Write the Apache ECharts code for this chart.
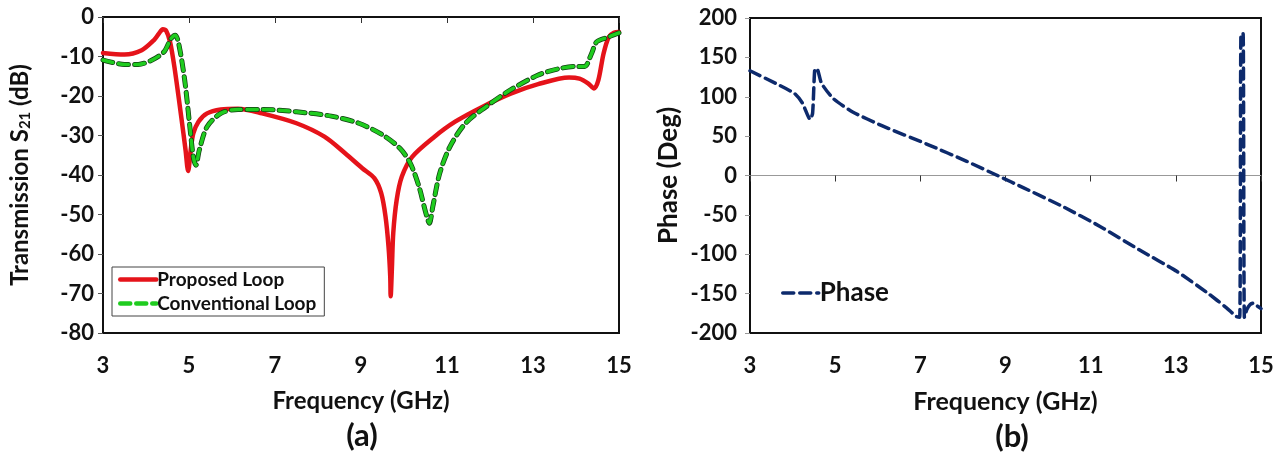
<!DOCTYPE html>
<html>
<head>
<meta charset="utf-8">
<script src="https://cdn.jsdelivr.net/npm/echarts@6/dist/echarts.min.js"></script>
<style>
  html, body { margin: 0; padding: 0; background: #ffffff; }
  #chart { width: 1286px; height: 452px; }
</style>
</head>
<body>
<div id="chart"></div>
<script>
// Frequency axis ticks shared by both panels (GHz)
const freqTicks = [3, 5, 7, 9, 11, 13, 15];
// Panel (a): S21 magnitude ticks (dB)
const s21Ticks = [0, -10, -20, -30, -40, -50, -60, -70, -80];
// Panel (b): phase ticks (degrees)
const phaseTicks = [200, 150, 100, 50, 0, -50, -100, -150, -200];

// Panel (a): transmission S21 of the proposed loop [GHz, dB]
const proposedLoop = [
  [3.00, -9.1], [3.50, -9.5], [3.90, -8.4], [4.18, -5.9], [4.30, -4.2], [4.39, -3.1],
  [4.47, -3.5], [4.56, -6.3], [4.66, -12.6], [4.82, -25.3], [4.92, -33.7], [4.98, -39.0],
  [5.04, -33.7], [5.10, -29.5], [5.22, -26.5], [5.42, -24.4], [5.74, -23.4], [6.14, -23.2],
  [6.70, -24.4], [7.50, -26.9], [8.15, -30.3], [8.63, -34.5], [9.03, -38.3], [9.31, -40.8],
  [9.47, -44.6], [9.57, -50.5], [9.64, -58.1], [9.68, -65.7], [9.69, -70.7], [9.72, -63.2],
  [9.75, -54.7], [9.83, -46.3], [9.95, -40.4], [10.19, -35.4], [10.71, -30.3], [11.19, -26.5],
  [11.83, -22.7], [12.48, -19.4], [13.12, -17.0], [13.84, -15.3], [14.08, -15.6], [14.28, -16.8],
  [14.42, -18.1], [14.52, -16.0], [14.64, -9.3], [14.76, -5.1], [14.88, -4.0], [15.00, -3.8]
];

// Panel (a): transmission S21 of the conventional loop [GHz, dB]
const conventionalLoop = [
  [3.00, -10.9], [3.50, -12.0], [3.82, -12.0], [4.14, -10.9], [4.42, -8.8], [4.58, -5.5],
  [4.68, -4.6], [4.76, -6.7], [4.90, -16.0], [5.02, -27.8], [5.10, -35.4], [5.16, -37.5],
  [5.24, -33.7], [5.42, -27.8], [5.74, -24.4], [6.14, -23.4], [6.70, -23.4], [7.50, -24.0],
  [8.31, -25.1], [8.95, -26.9], [9.51, -29.9], [9.91, -33.3], [10.15, -37.1], [10.35, -43.0],
  [10.51, -49.7], [10.59, -52.2], [10.67, -48.0], [10.83, -39.6], [11.07, -32.8], [11.43, -26.9],
  [11.91, -22.7], [12.47, -18.5], [13.12, -14.7], [13.60, -13.1], [14.00, -12.5], [14.20, -12.5],
  [14.36, -9.3], [14.48, -6.3], [14.72, -5.2], [15.00, -4.0]
];

// Panel (b): transmission phase [GHz, deg]
const phaseData = [
  [3.00, 133], [3.60, 117], [4.05, 104], [4.23, 92], [4.35, 77], [4.41, 71], [4.47, 79],
  [4.52, 134], [4.57, 136], [4.68, 117], [4.95, 98], [5.40, 81], [6.11, 63], [7.19, 39],
  [8.09, 18], [8.81, 0], [9.44, -16], [10.33, -39], [11.23, -65], [12.13, -94], [13.03, -122],
  [13.74, -149], [14.19, -168], [14.42, -179], [14.50, -180], [14.53, 180], [14.58, 180],
  [14.61, -180], [14.67, -170], [14.74, -164], [14.82, -162], [14.92, -166], [15.00, -169]
];

const FONT = 'Lato';
const INK = '#111111';
const tickFont = { fontFamily: FONT, fontWeight: 'bold', fontSize: 22, color: INK };
const titleFontA = { fontFamily: FONT, fontWeight: 'bold', fontSize: 24, color: INK };
const titleFontB = { fontFamily: FONT, fontWeight: 'bold', fontSize: 25, color: INK };

// Bottom axis carrying the frequency labels and title
function labelAxis(gridIndex, nameStyle) {
  return {
    gridIndex, type: 'value', min: freqTicks[0], max: freqTicks[freqTicks.length - 1],
    interval: freqTicks[1] - freqTicks[0], position: 'bottom',
    axisLine: { show: false, onZero: false }, axisTick: { show: false }, splitLine: { show: false },
    axisLabel: Object.assign({ margin: 22 }, tickFont),
    name: 'Frequency (GHz)', nameLocation: 'middle', nameGap: 56, nameTextStyle: nameStyle
  };
}
// Horizontal axis line drawn where the value axis crosses zero, with its ticks
function zeroAxis(gridIndex, lineColor) {
  return {
    gridIndex, type: 'value', min: freqTicks[0], max: freqTicks[freqTicks.length - 1],
    interval: freqTicks[1] - freqTicks[0], position: 'bottom',
    axisLine: { show: true, onZero: true, lineStyle: { color: lineColor, width: 1 } },
    axisTick: { show: true, length: 6, lineStyle: { color: '#333', width: 1 } },
    axisLabel: { show: false }, splitLine: { show: false }
  };
}

const chart = echarts.init(document.getElementById('chart'), null, { renderer: 'canvas' });
chart.setOption({
  animation: false,
  backgroundColor: '#ffffff',
  grid: [
    { left: 103, top: 17, width: 516, height: 316, show: true, borderColor: INK, borderWidth: 2 },
    { left: 750, top: 18, width: 511, height: 315, show: true, borderColor: INK, borderWidth: 2 }
  ],
  xAxis: [labelAxis(0, titleFontA), zeroAxis(0, INK), labelAxis(1, titleFontB), zeroAxis(1, '#999')],
  yAxis: [
    {
      gridIndex: 0, type: 'value', min: s21Ticks[s21Ticks.length - 1], max: s21Ticks[0],
      interval: s21Ticks[0] - s21Ticks[1],
      axisLine: { show: true, lineStyle: { color: INK, width: 2 } },
      axisTick: { show: true, length: 5, lineStyle: { color: '#555' } },
      splitLine: { show: false },
      axisLabel: Object.assign({ margin: 9 }, tickFont),
      name: 'Transmission S{sub|21} (dB)', nameLocation: 'middle', nameGap: 70,
      nameTextStyle: Object.assign({}, titleFontA, {
        rich: { sub: { fontFamily: FONT, fontWeight: 'bold', fontSize: 15, color: INK, padding: [11, 0, 0, 0] } }
      })
    },
    {
      gridIndex: 1, type: 'value', min: phaseTicks[phaseTicks.length - 1], max: phaseTicks[0],
      interval: phaseTicks[0] - phaseTicks[1],
      axisLine: { show: true, lineStyle: { color: INK, width: 2 } },
      axisTick: { show: true, length: 5, lineStyle: { color: '#999' } },
      splitLine: { show: false },
      axisLabel: Object.assign({ margin: 13 }, tickFont),
      name: 'Phase (Deg)', nameLocation: 'middle', nameGap: 68,
      nameTextStyle: Object.assign({}, titleFontB, { fontSize: 26 })
    }
  ],
  legend: [
    {
      data: ['Proposed Loop', 'Conventional Loop'], orient: 'vertical', left: 112, top: 267,
      itemWidth: 36, itemHeight: 14, itemGap: 5, padding: [3, 8, 3, 6],
      borderColor: '#444', borderWidth: 1, backgroundColor: '#fff',
      itemStyle: { opacity: 0 },
      lineStyle: { width: 4.5 },
      textStyle: { fontFamily: FONT, fontWeight: 'bold', fontSize: 19, color: INK, padding: [0, 0, 0, -4] }
    },
    {
      data: ['Phase'], left: 776, top: 275, itemWidth: 36, itemHeight: 14,
      itemStyle: { opacity: 0 },
      lineStyle: { width: 3.5 },
      textStyle: { fontFamily: FONT, fontWeight: 'bold', fontSize: 26, color: INK, padding: [0, 0, 0, -4] }
    }
  ],
  series: [
    {
      name: 'Proposed Loop', type: 'line', xAxisIndex: 0, yAxisIndex: 0, data: proposedLoop,
      showSymbol: false, symbol: 'none', smooth: 0.3, color: '#e5131a',
      lineStyle: { width: 4.5, color: '#e5131a', cap: 'round', join: 'round' }
    },
    {
      name: 'Conventional Loop outline', type: 'line', xAxisIndex: 0, yAxisIndex: 0, data: conventionalLoop,
      showSymbol: false, symbol: 'none', smooth: 0.3, silent: true,
      lineStyle: { width: 5, color: '#123d12', type: [10, 6], cap: 'round', join: 'round' }
    },
    {
      name: 'Conventional Loop', type: 'line', xAxisIndex: 0, yAxisIndex: 0, data: conventionalLoop,
      showSymbol: false, symbol: 'none', smooth: 0.3, color: '#1fcc1f',
      lineStyle: { width: 3.5, color: '#1fcc1f', type: [10, 6], cap: 'round', join: 'round' }
    },
    {
      name: 'Phase', type: 'line', xAxisIndex: 2, yAxisIndex: 1, data: phaseData,
      showSymbol: false, symbol: 'none', smooth: 0.2, color: '#0d2a6c',
      lineStyle: { width: 3.5, color: '#0d2a6c', type: [11, 6], cap: 'round', join: 'round' }
    }
  ],
  graphic: [
    { type: 'text', x: 362, y: 436, style: { text: '(a)', textAlign: 'center', textVerticalAlign: 'middle',
      font: 'bold 31px Lato', fill: INK } },
    { type: 'text', x: 1012, y: 437, style: { text: '(b)', textAlign: 'center', textVerticalAlign: 'middle',
      font: 'bold 31px Lato', fill: INK } }
  ]
});
</script>
</body>
</html>
